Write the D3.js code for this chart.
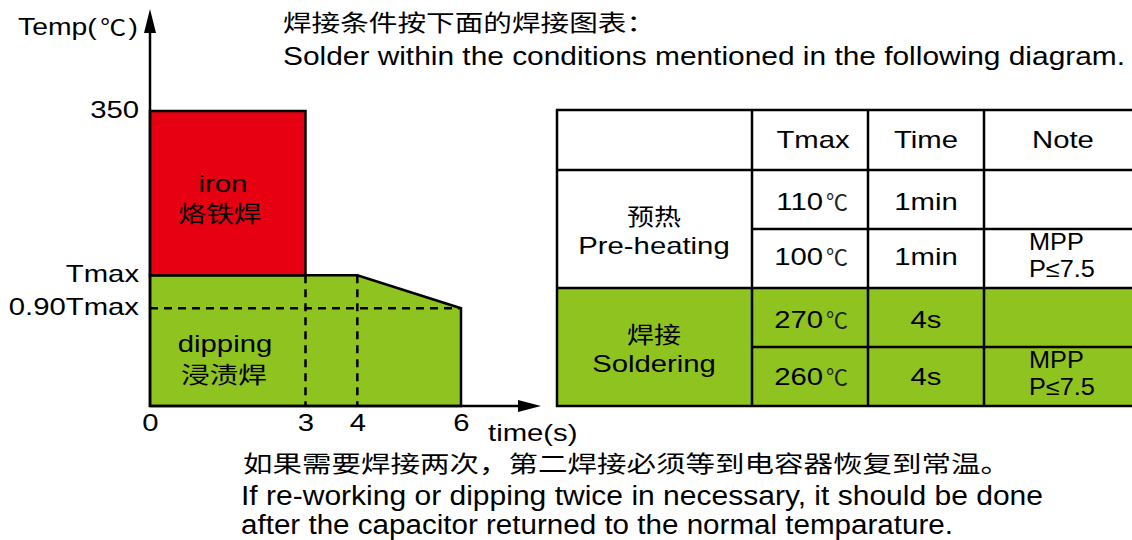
<!DOCTYPE html>
<html><head><meta charset="utf-8">
<script src="https://cdn.jsdelivr.net/npm/d3@7"></script>
<style>body{margin:0;background:#fff}svg{display:block}</style>
</head><body>
<svg id="c" width="1132" height="540"></svg>
<script>
// ---- data ----
const timeTicks = [0, 3, 4, 6];
const tempTickLabels = ["350", "Tmax", "0.90Tmax"];
const tempTickValues = [350, 155, 116]; // schematic positions
const ironZone = {t0: 0, t1: 3, top: 350, bottom: 155};
const dipProfileTime = [0, 0, 4, 6, 6];
const dipProfileTemp = [0, 155, 155, 116, 0];
const tableHeader = ["", "Tmax", "Time", "Note"];
const tableGroups = ["预热|Pre-heating", "焊接|Soldering"];
const tableTmax = ["110", "100", "270", "260"];
const tableTime = ["1min", "1min", "4s", "4s"];
const tableNote = ["", "MPP|P≤7.5", "", "MPP|P≤7.5"];
const titleCN = "焊接条件按下面的焊接图表：";
const titleEN = "Solder within the conditions mentioned in the following diagram.";
const noteCN = "如果需要焊接两次，第二焊接必须等到电容器恢复到常温。";
const noteEN1 = "If re-working or dipping twice in necessary, it should be done";
const noteEN2 = "after the capacitor returned to the normal temparature.";

const RED = "#e60012", GREEN = "#8fc31f";
const FONT = "'Liberation Sans', Arial, sans-serif";
const CJK = "'Noto Sans CJK SC', sans-serif";
const K = 1.22; // horizontal stretch of the original artwork

const svg = d3.select("#c");
const x = d3.scaleLinear().domain([0, 6]).range([150, 461]);
const y = d3.scaleLinear().domain([0, 350]).range([406, 111]);

function stretch(sel, k) {
  sel.each(function () {
    const w = this.getComputedTextLength();
    d3.select(this).attr("textLength", w * k).attr("lengthAdjust", "spacingAndGlyphs");
  });
  return sel;
}
function txt(parent, tx, ty, s, o) {
  o = o || {};
  const t = parent.append("text").attr("x", tx).attr("y", ty)
    .attr("text-anchor", o.anchor || "start")
    .attr("font-family", o.fam || FONT).attr("font-size", o.size || 24)
    .attr("fill", o.fill || "#000").text(s);
  if (o.len) t.attr("textLength", o.len).attr("lengthAdjust", "spacingAndGlyphs");
  else stretch(t, o.k || K);
  return t;
}

// green dipping polygon
const line = d3.line().x(d => x(d[0])).y(d => y(d[1]));
const dipPts = dipProfileTime.map((t, i) => [t, dipProfileTemp[i]]);
svg.append("path").attr("d", line(dipPts) + "Z")
  .attr("fill", GREEN).attr("stroke", "#000").attr("stroke-width", 2.5);
// red iron rect
svg.append("rect").attr("x", x(ironZone.t0)).attr("y", y(ironZone.top))
  .attr("width", x(ironZone.t1) - x(ironZone.t0)).attr("height", y(ironZone.bottom) - y(ironZone.top))
  .attr("fill", RED).attr("stroke", "#000").attr("stroke-width", 2.5);

// dashed guides
const dash = "8,6";
svg.append("line").attr("x1", x(0)).attr("x2", x(6)).attr("y1", y(116)).attr("y2", y(116))
  .attr("stroke", "#000").attr("stroke-width", 2.5).attr("stroke-dasharray", dash);
[3, 4].forEach(t => {
  svg.append("line").attr("x1", x(t)).attr("x2", x(t)).attr("y1", y(155)).attr("y2", y(0))
    .attr("stroke", "#000").attr("stroke-width", 2.5).attr("stroke-dasharray", dash);
});

// axes
svg.append("line").attr("x1", x(0)).attr("x2", 522).attr("y1", y(0)).attr("y2", y(0))
  .attr("stroke", "#000").attr("stroke-width", 2.5);
svg.append("path").attr("d", `M541,${y(0)} L518,${y(0) - 6} L518,${y(0) + 6} Z`).attr("fill", "#000");
svg.append("line").attr("x1", x(0)).attr("x2", x(0)).attr("y1", y(0) + 1).attr("y2", 30)
  .attr("stroke", "#000").attr("stroke-width", 2.5);
svg.append("path").attr("d", `M${x(0)},9 L${x(0) - 6},33 L${x(0) + 6},33 Z`).attr("fill", "#000");

// tick labels
const xAxis = d3.axisBottom(x).tickValues(timeTicks).tickSize(0).tickPadding(8).tickFormat(d3.format("d"));
const gx = svg.append("g").attr("transform", `translate(0,${y(0)})`).call(xAxis);
gx.select(".domain").remove();
gx.selectAll("text").attr("font-family", FONT).attr("font-size", 24).attr("fill", "#000").call(stretch, K);
const yAxis = d3.axisLeft(y).tickValues(tempTickValues).tickSize(0).tickPadding(11)
  .tickFormat((d, i) => tempTickLabels[i]);
const gy = svg.append("g").attr("transform", `translate(${x(0)},0)`).call(yAxis);
gy.select(".domain").remove();
gy.selectAll("text").attr("font-family", FONT).attr("font-size", 24).attr("fill", "#000").attr("dy", "0.25em").call(stretch, K);

// axis titles
const tt = svg.append("text").attr("x", 18).attr("y", 35).attr("font-family", FONT).attr("font-size", 24);
tt.append("tspan").text("Temp(");
tt.append("tspan").attr("font-family", CJK).attr("font-size", 22).attr("dx", 3).text("℃");
tt.append("tspan").attr("dx", 2).text(")");
tt.attr("textLength", 120).attr("lengthAdjust", "spacingAndGlyphs");
txt(svg, 488, 441, "time(s)");

// zone labels
txt(svg, 223, 192, "iron", {anchor: "middle"});
txt(svg, 220, 222, "烙铁焊", {anchor: "middle", fam: CJK, size: 23, len: 83});
txt(svg, 225, 352, "dipping", {anchor: "middle"});
txt(svg, 224, 383, "浸渍焊", {anchor: "middle", fam: CJK, size: 23, len: 86});

// titles and notes
txt(svg, 283, 31, titleCN, {fam: CJK, size: 23, len: 372});
txt(svg, 283, 65, titleEN, {size: 26, len: 842});
txt(svg, 243, 472, noteCN, {fam: CJK, size: 23, len: 767});
txt(svg, 241, 505, noteEN1, {size: 27, len: 802});
txt(svg, 241, 534, noteEN2, {size: 27, len: 712});

// table
const colX = [557, 752, 868, 984, 1140];
const rowY = [110, 170, 229, 288, 347, 406];
const tg = svg.append("g");
tg.append("rect").attr("x", colX[0]).attr("y", rowY[3]).attr("width", colX[4] - colX[0])
  .attr("height", rowY[5] - rowY[3]).attr("fill", GREEN);
const hl = (x1, x2, yy) => tg.append("line").attr("x1", x1).attr("x2", x2).attr("y1", yy).attr("y2", yy).attr("stroke", "#000").attr("stroke-width", 2.5);
const vl = (xx, y1, y2) => tg.append("line").attr("x1", xx).attr("x2", xx).attr("y1", y1).attr("y2", y2).attr("stroke", "#000").attr("stroke-width", 2.5);
hl(colX[0] - 1, colX[4], rowY[0]);
hl(colX[0] - 1, colX[4], rowY[1]);
hl(colX[1], colX[4], rowY[2]);
hl(colX[0] - 1, colX[4], rowY[3]);
hl(colX[1], colX[4], rowY[4]);
hl(colX[0] - 1, colX[4], rowY[5]);
colX.slice(0, 4).forEach(cx => vl(cx, rowY[0] - 1, rowY[5] + 1));

// header
txt(tg, 813, rowY[0] + 38, tableHeader[1], {anchor: "middle"});
txt(tg, 926, rowY[0] + 38, tableHeader[2], {anchor: "middle"});
txt(tg, 1063, rowY[0] + 38, tableHeader[3], {anchor: "middle"});
// groups
tableGroups.forEach((g, i) => {
  const [cn, en] = g.split("|");
  const top = rowY[1 + 2 * i];
  const cxm = 654;
  txt(tg, cxm, top + 55, cn, {anchor: "middle", fam: CJK, size: 23, len: cn.length * 27});
  txt(tg, cxm, top + 84, en, {anchor: "middle"});
});
// rows
const rowBase = [40, 36, 40, 38];
tableTmax.forEach((v, i) => {
  const by = rowY[i + 1] + rowBase[i];
  txt(tg, 823, by, v, {anchor: "end"});
  txt(tg, 826, by, "℃", {fam: CJK, size: 22, fill: "#222", len: 22});
  txt(tg, 926, by, tableTime[i], {anchor: "middle"});
  if (tableNote[i]) {
    const [a, b] = tableNote[i].split("|");
    txt(tg, 1029, rowY[i + 1] + 21, a, {size: 23, k: 1.1});
    txt(tg, 1029, rowY[i + 1] + 48, b, {size: 23, k: 1.1});
  }
});
</script>
</body></html>
